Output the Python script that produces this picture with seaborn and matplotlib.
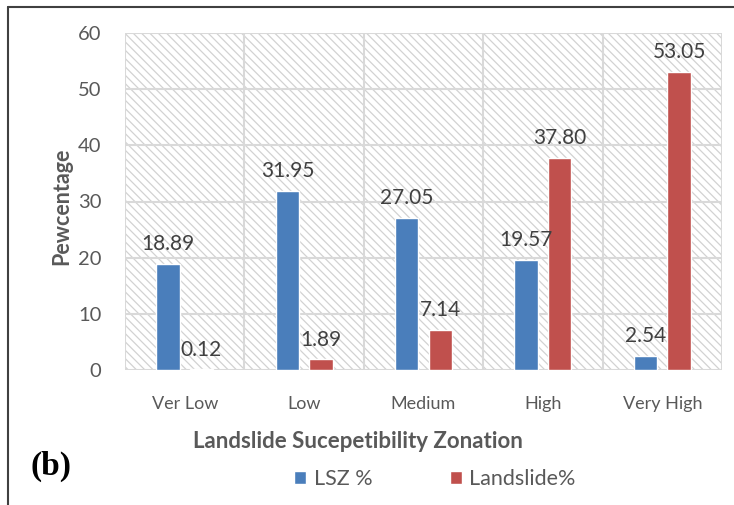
import matplotlib
matplotlib.use("Agg")
import matplotlib.pyplot as plt
from matplotlib.patches import Rectangle
from matplotlib.lines import Line2D
import seaborn as sns
import pandas as pd

zones = ["Ver Low", "Low", "Medium", "High", "Very High"]
lsz_pct = [18.89, 31.95, 27.05, 19.57, 2.54]
landslide_pct = [0.12, 1.89, 7.14, 37.80, 53.05]
series_names = ["LSZ %", "Landslide%"]
y_ticks = [0, 10, 20, 30, 40, 50, 60]

df = pd.DataFrame({
    "zone": zones * 2,
    "value": lsz_pct + landslide_pct,
    "series": [series_names[0]] * len(zones) + [series_names[1]] * len(zones),
})

sns.set_theme(style="white")
plt.rcParams["font.family"] = ["Lato", "DejaVu Sans"]
plt.rcParams["hatch.linewidth"] = 0.9
plt.rcParams["hatch.color"] = "#d0d0d0"

W, H = 734, 505
fig = plt.figure(figsize=(W / 100, H / 100), dpi=100)
fig.patch.set_facecolor("white")
ax = fig.add_axes([125 / W, 1 - 370 / H, (722 - 125) / W, (370 - 33) / H])

blue, red = "#4a7ebb", "#c0504d"
sns.barplot(data=df, x="zone", y="value", hue="series", palette=[blue, red],
            width=0.56, gap=0.3, saturation=1, ax=ax, zorder=3)

# hatched plot-area background
ax.add_patch(Rectangle((0, 0), 1, 1, transform=ax.transAxes, facecolor="white",
                       edgecolor="#d2d2d2", hatch="\\\\\\\\", linewidth=0, zorder=0))

ax.set_ylim(0, 60)
ax.set_xlim(-0.5, len(zones) - 0.5)
ax.set_yticks(y_ticks)
for y in y_ticks:
    ax.axhline(y, color="#d9d9d9", lw=1.5, zorder=1)
for x in [i - 0.5 for i in range(len(zones) + 1)]:
    ax.axvline(x, color="#d9d9d9", lw=1.5, zorder=1)
for s in ax.spines.values():
    s.set_visible(False)

for cont in ax.containers:
    ax.bar_label(cont, fmt="%.2f", padding=7, fontsize=15, color="#404040")

ax.tick_params(axis="y", length=0, pad=17, labelsize=14.5, labelcolor="#595959")
ax.tick_params(axis="x", length=0, pad=19, labelsize=13, labelcolor="#595959")
ax.set_xlabel("")
ax.set_ylabel("")

fig.text(62 / W, 1 - 206 / H, "Pewcentage", rotation=90, ha="center", va="center",
         fontsize=15.5, fontweight="bold", color="#595959")
fig.text(358 / W, 1 - 442 / H, "Landslide Sucepetibility Zonation", ha="center",
         va="center", fontsize=16, fontweight="bold", color="#595959")
fig.text(51 / W, 1 - 466 / H, "(b)", ha="center", va="center", fontsize=24,
         fontweight="bold", family="Liberation Serif", color="black")

sns.move_legend(ax, "center", bbox_to_anchor=(435 / W, 1 - 479 / H),
                bbox_transform=fig.transFigure, ncol=2, frameon=False, title=None,
                fontsize=15.5, handlelength=0.55, handleheight=0.55,
                handletextpad=0.35, columnspacing=3.6)
for t in ax.get_legend().get_texts():
    t.set_color("#595959")

# outer frame
fig.add_artist(Line2D([8 / W, 8 / W], [0, 1 - 7 / H], transform=fig.transFigure,
                      color="#404040", lw=1.5))
fig.add_artist(Line2D([8 / W, 1], [1 - 7 / H, 1 - 7 / H], transform=fig.transFigure,
                      color="#404040", lw=1.5))

fig.savefig("out.png", dpi=100)
